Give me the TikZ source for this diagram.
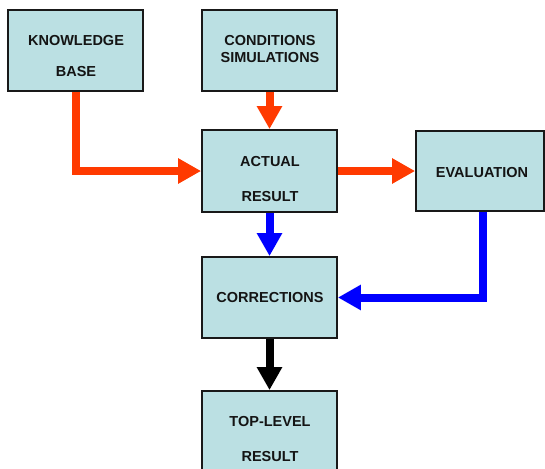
\documentclass[tikz,border=0pt]{standalone}
\usepackage{fontspec}
\setmainfont{Liberation Sans}
\usetikzlibrary{arrows.meta,calc}
\definecolor{boxfill}{HTML}{BBE0E3}
\definecolor{redarrow}{HTML}{FF3A00}
\definecolor{bluearrow}{HTML}{0000FF}
\tikzset{
  box/.style={draw=black!90, line width=1.8pt, fill=boxfill, minimum width=135pt, minimum height=81pt, inner sep=0pt},
  lbl/.style={anchor=base, inner sep=0pt, font=\fontsize{14.5pt}{16pt}\selectfont\bfseries, text=black!92},
  conn/.style={line width=8pt, line join=miter, -{Triangle[length=23pt,width=24pt]}},
}
\begin{document}
\begin{tikzpicture}[x=1pt,y=-1pt]
\useasboundingbox (0,0) rectangle (545,468);
\node[box] (kb) at (75.5,50.5) {};
\node[box] (cond) at (269.5,50.5) {};
\node[box, minimum height=82pt] (act) at (269.5,171) {};
\node[box, minimum width=128pt, minimum height=80pt] (eval) at (480,171) {};
\node[box] (corr) at (269.5,297.5) {};
\node[box] (top) at (269.5,431.5) {};

\node[lbl] (kbt1) at (76,45.7) {KNOWLEDGE};
\node[lbl] (kbt2) at (76,77) {BASE};
\node[lbl] (condt1) at (270,45.7) {CONDITIONS};
\node[lbl] (condt2) at (270,62.7) {SIMULATIONS};
\node[lbl] (actt1) at (270,166.7) {ACTUAL};
\node[lbl] (actt2) at (270,201) {RESULT};
\node[lbl] (evalt) at (482,177.3) {EVALUATION};
\node[lbl] (corrt) at (270,302.3) {CORRECTIONS};
\node[lbl] (topt1) at (270,426.7) {TOP-LEVEL};
\node[lbl] (topt2) at (270,461.7) {RESULT};

\draw[conn, redarrow] (kb.south) |- (act.west);
\draw[conn, redarrow] (cond.south) -- (act.north);
\draw[conn, redarrow] (act.east) -- (eval.west);
\draw[conn, bluearrow] (act.south) -- (corr.north);
\draw[conn, bluearrow] ([xshift=3pt]eval.south) |- (corr.east);
\draw[conn, black] (corr.south) -- (top.north);
\end{tikzpicture}
\end{document}
